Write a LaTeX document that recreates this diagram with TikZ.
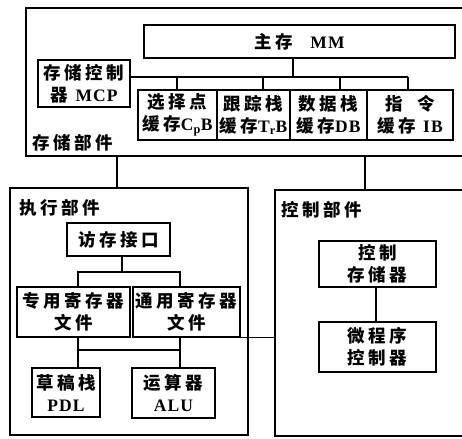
\documentclass[tikz,border=0pt]{standalone}
\usepackage{fontspec}
\setmainfont{Noto Sans CJK SC}[LetterSpace=20]
\newfontfamily\latx{Liberation Serif}[LetterSpace=6]
\newcommand\lx[1]{{\latx\bfseries #1}}
\begin{document}
\begin{tikzpicture}[x=1pt,y=-1pt,
  box/.style={draw,line width=1.4pt,inner sep=0pt,align=center,
    font=\bfseries\fontsize{17.5}{22}\selectfont},
  part/.style={draw,line width=1.4pt,inner sep=0pt},
  plabel/.style={anchor=west,inner sep=0pt,font=\bfseries\fontsize{17.5}{20}\selectfont},
  wire/.style={line width=1.4pt}]
\useasboundingbox (0,0) rectangle (462,438);
\clip (0,0) rectangle (462,438);
% outer parts
\node[part,minimum width=454,minimum height=148] (stor) at (253,82) {};
\node[part,minimum width=238,minimum height=247] (exec) at (129,311.5) {};
\node[part,minimum width=205,minimum height=246] (ctrl) at (377.5,313) {};
\node[plabel] (lstor) at (32,143) {存储部件};
\node[plabel] (lexec) at (19,208) {执行部件};
\node[plabel] (lctrl) at (281,210) {控制部件};
% storage
\node[box,minimum width=311,minimum height=33] (mm) at (299.5,41.5) {主存\quad\lx{MM}};
\node[box,minimum width=92,minimum height=47] (mcp) at (84,83.5) {存储控制\\器 \lx{MCP}};
\node[box,minimum width=79,minimum height=50] (cpb) at (177.5,115) {选择点\\缓存\lx{C\textsubscript{p}B}};
\node[box,minimum width=73,minimum height=50] (trb) at (253.5,115) {跟踪栈\\缓存\lx{T\textsubscript{r}B}};
\node[box,minimum width=77,minimum height=50] (db) at (328.5,115) {数据栈\\缓存\lx{DB}};
\node[box,minimum width=86,minimum height=50] (ib) at (410,115) {指\ \ 令\\缓存 \lx{IB}};
\coordinate (bus) at (0,77);
\draw[wire] (mcp.east |- bus) -- (408,77);
\draw[wire] (mm.south -| 293,0) -- (293,77);
\draw[wire] (177,77) -- (cpb.north -| 177,0);
\draw[wire] (263,77) -- (trb.north -| 263,0);
\draw[wire] (340,77) -- (db.north -| 340,0);
\draw[wire] (408,77) -- (ib.north -| 408,0);
% storage to parts
\draw[line width=2.6pt] (stor.south -| 117,0) -- (exec.north -| 117,0);
\draw[wire] (stor.south -| 365,0) -- (ctrl.north -| 365,0);
% execution
\node[box,minimum width=103,minimum height=33] (mif) at (118.5,239.5) {访存接口};
\node[box,minimum width=113,minimum height=50] (srf) at (73.5,312) {专用寄存器\\文件};
\node[box,minimum width=107,minimum height=50] (grf) at (186.5,312) {通用寄存器\\文件};
\node[box,minimum width=68,minimum height=49] (pdl) at (66,392.5) {草稿栈\\\lx{PDL}};
\node[box,minimum width=83,minimum height=50] (alu) at (173.5,393) {运算器\\\lx{ALU}};
\draw[wire] (mif.south -| 122,0) -- (122,272);
\draw[wire] (srf.north -| 78,0) -- (78,272) -- (180,272) -- (grf.north -| 180,0);
\draw[wire] (srf.south -| 78,0) -- (pdl.north -| 78,0);
\draw[wire] (grf.south -| 180,0) -- (alu.north -| 180,0);
\draw[wire] (78,350) -- (180,350);
\draw[wire] (grf.south east) -- (ctrl.west |- grf.south east);
% control
\node[box,minimum width=117,minimum height=46] (cs) at (377.5,264) {控制\\存储器};
\node[box,minimum width=117,minimum height=50] (mpc) at (377.5,347) {微程序\\控制器};
\draw[wire] (cs.south -| 376,0) -- (mpc.north -| 376,0);
\end{tikzpicture}
\end{document}
